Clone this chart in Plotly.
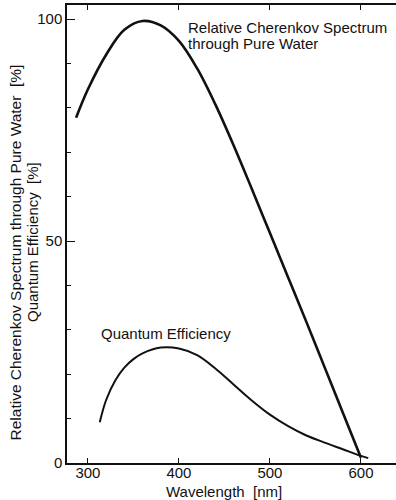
import plotly.graph_objects as go

# Relative Cherenkov spectrum through pure water [%]
cherenkov_wl = [287, 300, 320, 340, 360, 380, 400, 420, 440, 460, 480, 500, 520, 540, 560, 580, 600]
cherenkov_val = [77.8, 84.2, 92.0, 97.6, 99.6, 98.6, 95.1, 88.9, 80.8, 71.6, 61.8, 51.8, 41.8, 31.8, 21.6, 11.4, 1.2]

# Photocathode quantum efficiency [%]
qe_wl = [313, 320, 330, 340, 350, 360, 380, 400, 420, 440, 460, 480, 500, 520, 540, 560, 580, 600, 608]
qe_val = [9.2, 14.2, 18.6, 21.5, 23.4, 24.7, 26.0, 25.8, 24.3, 21.3, 17.7, 14.1, 10.9, 8.3, 6.2, 4.6, 3.1, 1.6, 1.1]

x_ticks = [300, 400, 500, 600]
y_ticks = [0, 50, 100]

FONT = "Liberation Sans, Arial, sans-serif"
INK = "#111111"
NBSP = "\u00a0"

fig = go.Figure()
fig.add_trace(go.Scatter(
    x=cherenkov_wl, y=cherenkov_val, mode="lines",
    line=dict(color=INK, width=2.6, shape="spline", smoothing=1.0),
    hoverinfo="skip", showlegend=False,
))
fig.add_trace(go.Scatter(
    x=qe_wl, y=qe_val, mode="lines",
    line=dict(color=INK, width=2.0, shape="spline", smoothing=1.0),
    hoverinfo="skip", showlegend=False,
))

def note(text, x, y, xanchor="left", angle=0, size=15):
    fig.add_annotation(
        text=text, xref="paper", yref="paper", x=x, y=y,
        xanchor=xanchor, yanchor="middle", textangle=angle,
        showarrow=False, font=dict(family=FONT, size=size, color=INK),
    )

note("Relative Cherenkov Spectrum", 0.3617, 0.951)
note("through Pure Water", 0.3617, 0.917)
note("Quantum Efficiency", 0.0973, 0.2817)
note("Relative Cherenkov Spectrum through Pure Water" + NBSP * 2 + "[%]",
     -0.1535, 0.4607, xanchor="center", angle=-90, size=15.5)
note("Quantum Efficiency" + NBSP * 2 + "[%]", -0.1063, 0.4825,
     xanchor="center", angle=-90, size=15)
note("Wavelength" + NBSP * 2 + "[nm]", 0.477, -0.0633, xanchor="center")

fig.update_layout(
    width=396, height=500,
    margin=dict(l=67, r=0, t=5, b=37),
    paper_bgcolor="white", plot_bgcolor="white",
    font=dict(family=FONT, size=15, color=INK),
    xaxis=dict(
        range=[277, 638.5], tickvals=x_ticks, ticks="inside", ticklen=5,
        tickwidth=1.2, tickcolor=INK, showline=True, linecolor=INK,
        linewidth=1.5, mirror="ticks", showgrid=False, zeroline=False,
        ticklabelstandoff=-5,
        tickfont=dict(size=15, family=FONT, color=INK),
    ),
    yaxis=dict(
        range=[0, 103.2], tickvals=y_ticks, ticks="inside", ticklen=8,
        tickwidth=1.2, tickcolor=INK, showline=True, linecolor=INK,
        linewidth=1.5, showgrid=False, zeroline=False,
        tickfont=dict(size=15, family=FONT, color=INK),
        minor=dict(tick0=0, dtick=10, ticks="inside", ticklen=4,
                   tickwidth=1, tickcolor=INK, showgrid=False),
    ),
)

fig.write_html("out.html")
